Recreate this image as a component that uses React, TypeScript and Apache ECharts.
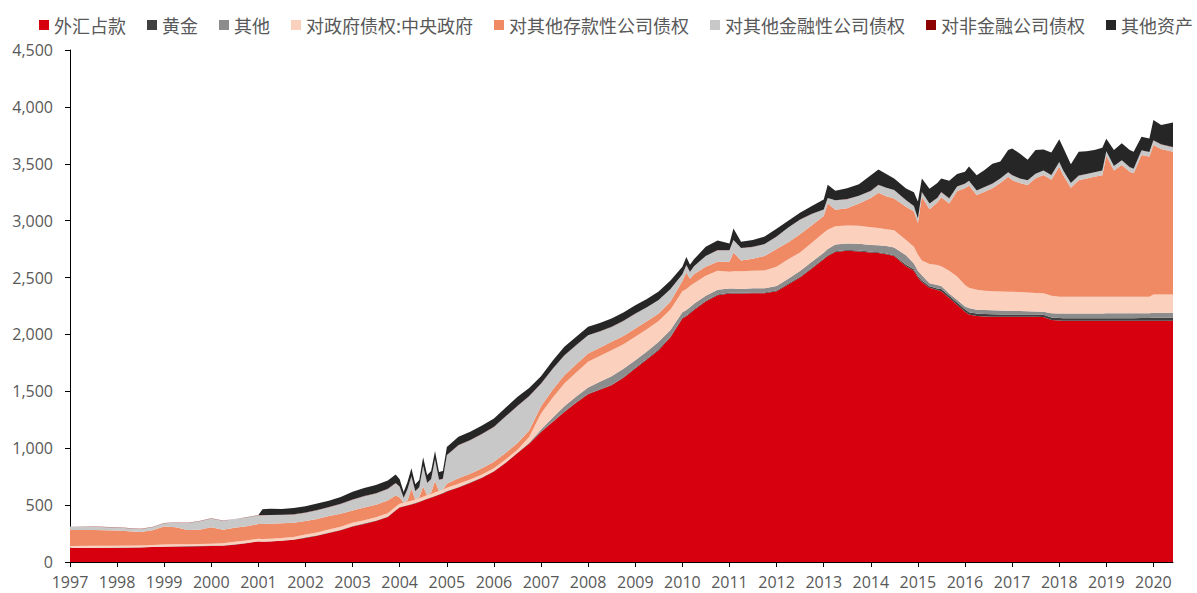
import { useEffect, useRef } from "react";
import * as echarts from "echarts";

// ---- data (unit: 百亿元) ----
const months = [
  "1997-01","1997-07","1998-01","1998-07","1998-10","1999-01","1999-04","1999-07","1999-10",
  "2000-01","2000-04","2000-07","2000-10","2001-01","2001-02","2001-04","2001-07","2001-10",
  "2002-01","2002-04","2002-07","2002-10","2003-01","2003-04","2003-07","2003-10","2003-12",
  "2004-01","2004-02","2004-03","2004-04","2004-05","2004-06","2004-07","2004-08","2004-09","2004-10","2004-11","2004-12",
  "2005-01","2005-04","2005-07","2005-10","2006-01","2006-04","2006-07","2006-10",
  "2007-01","2007-04","2007-07","2007-10","2008-01","2008-04","2008-07","2008-10",
  "2009-01","2009-04","2009-07","2009-10","2010-01","2010-02","2010-03","2010-04","2010-07","2010-10",
  "2011-01","2011-02","2011-04","2011-07","2011-10","2012-01","2012-04","2012-07","2012-10",
  "2013-01","2013-02","2013-04","2013-07","2013-10","2014-01","2014-03","2014-05","2014-07","2014-10","2014-12",
  "2015-01","2015-02","2015-04","2015-06","2015-07","2015-09","2015-11",
  "2016-01","2016-02","2016-04","2016-06","2016-08","2016-10","2016-12",
  "2017-01","2017-03","2017-05","2017-07","2017-09","2017-11",
  "2018-01","2018-02","2018-04","2018-06","2018-08","2018-10","2018-12",
  "2019-01","2019-03","2019-05","2019-07","2019-08","2019-10","2019-12",
  "2020-01","2020-03","2020-06",
];

const fxHoldings = [
  122,123,124,127,131,134,136,137,139,
  141,143,152,165,180,178,180,186,195,
  212,230,255,278,312,335,360,395,452,
  478,487,496,505,515,527,540,553,565,578,590,603,
  620,655,695,740,795,870,955,1040,
  1143,1230,1319,1400,1475,1515,1554,1620,
  1700,1780,1862,1975,2140,2160,2185,2215,2290,2345,
  2360,2360,2360,2362,2362,2380,2440,2500,2580,
  2660,2690,2725,2735,2730,2720,2715,2705,2690,2600,2560,
  2500,2460,2410,2390,2380,2320,2260,
  2200,2175,2162,2158,2156,2155,2155,
  2155,2155,2155,2155,2153,2128,
  2122,2121,2121,2121,2121,2120,2120,
  2120,2120,2120,2120,2120,2120,2120,
  2120,2120,2120,
];

const gold = [
  1,1,1,1,1,1,1,1,1,
  1,1,1,1,1,1,1,1,1,
  3,3,3,3,3,3,3,3,3,
  3,3,3,3,3,3,3,3,3,3,3,3,
  3,3,3,3,3,3,3,3,
  3,3,3,3,3,3,3,3,
  7,7,7,7,7,7,7,7,7,7,
  7,7,7,7,7,7,7,7,7,
  7,7,7,7,7,7,7,7,7,12,13,
  14,14,14,14,20,20,20,
  21,21,21,21,21,21,21,
  21,21,21,21,21,22,
  22,22,22,22,22,22,22,
  23,23,23,23,23,25,25,
  26,26,27,
];

const otherForeign = [
  2,2,2,2,2,2,2,2,2,
  2,2,2,2,2,2,2,2,2,
  2,2,2,2,2,2,2,2,2,
  2,2,2,2,2,2,2,2,2,2,2,2,
  2,2,2,2,2,2,2,5,
  18,35,47,52,55,67,76,75,
  66,63,66,58,48,48,48,48,43,40,
  37,37,33,36,36,38,43,51,53,
  51,53,58,58,60,60,63,66,68,85,51,
  46,46,26,31,25,20,25,
  24,36,33,36,36,34,32,
  31,29,27,25,26,36,
  40,41,41,41,41,43,43,
  43,43,43,43,43,41,41,
  44,44,43,
];

const govClaims = [
  16,16,16,16,16,16,16,16,16,
  16,18,22,22,22,22,22,22,22,
  24,24,26,26,28,28,28,28,28,
  28,28,28,28,28,28,28,28,28,28,28,28,
  28,28,25,25,25,25,25,50,
  141,175,199,210,226,225,229,215,
  206,195,184,180,185,185,185,180,175,168,
  147,151,155,155,157,170,170,162,165,
  176,170,162,158,158,155,150,147,150,132,146,
  140,130,170,175,175,200,205,
  190,178,176,170,167,168,168,
  168,167,165,164,162,154,
  147,147,147,147,147,146,146,
  145,145,145,145,145,145,145,
  161,161,161,
];

const bankClaims = [
  140,140,133,118,130,160,150,125,125,
  145,120,125,125,128,130,132,130,125,
  120,120,118,115,108,112,110,112,100,
  55,0,10,105,0,10,90,0,10,100,0,0,
  35,48,50,55,57,58,58,58,
  64,70,74,74,73,73,73,73,
  73,70,65,70,90,145,65,80,80,80,
  87,165,95,105,128,155,150,160,155,
  146,230,143,152,195,258,310,290,280,293,310,
  280,560,480,550,605,590,750,
  850,900,833,870,905,952,1010,
  982,958,945,1007,1039,1020,
  1143,1069,959,1024,1039,1054,1069,
  1239,1109,1159,1099,1085,1246,1232,
  1314,1279,1255,
];

const otherFinClaims = [
  30,28,27,27,25,28,40,62,75,
  78,78,75,77,78,78,75,72,72,
  72,75,78,85,95,98,100,102,108,
  95,43,99,108,73,86,180,109,120,190,100,94,
  250,290,295,300,305,320,325,300,
  197,183,174,166,160,143,130,132,
  130,123,118,109,59,64,59,69,94,101,
  102,109,109,104,104,109,129,129,99,
  58,49,84,79,69,61,69,74,74,58,49,
  39,40,50,40,45,45,40,
  40,40,40,40,40,40,39,
  43,40,42,40,39,40,
  41,40,40,40,40,40,40,
  40,40,40,40,40,40,40,
  40,40,40,
];

const nonFinClaims = [
  2,2,2,2,2,2,2,2,2,
  2,2,2,2,2,2,2,2,2,
  2,2,2,2,2,2,2,2,2,
  2,2,2,2,2,2,2,2,2,2,2,2,
  2,2,2,2,2,2,2,2,
  2,2,2,2,2,2,2,2,
  1,1,1,1,1,1,1,1,1,1,
  1,1,1,1,1,1,1,1,1,
  1,1,1,1,1,1,1,1,1,1,1,
  1,1,1,1,1,1,1,
  1,1,1,1,1,1,1,
  1,1,1,1,1,1,
  1,1,1,1,1,1,1,
  1,1,1,1,1,1,1,
  1,1,1,
];

const otherAssets = [
  0,0,0,0,0,0,0,0,0,
  0,0,0,0,0,50,55,50,55,
  55,58,55,60,68,70,72,72,75,
  65,50,60,70,60,62,75,68,70,72,65,68,
  70,72,72,73,73,75,80,72,
  65,70,73,73,73,72,73,72,
  73,72,74,75,65,70,62,60,80,83,
  59,102,55,59,65,70,60,60,70,
  88,115,82,95,100,138,135,120,100,102,120,
  149,119,129,129,119,154,109,
  104,124,134,149,174,149,194,
  234,219,179,207,184,199,
  199,199,164,209,199,194,199,
  109,139,149,149,149,120,119,
  179,169,215,
];

const seriesNames = [
  "外汇占款",
  "黄金",
  "其他",
  "对政府债权:中央政府",
  "对其他存款性公司债权",
  "对其他金融性公司债权",
  "对非金融公司债权",
  "其他资产",
];
const seriesValues = [
  fxHoldings, gold, otherForeign, govClaims, bankClaims, otherFinClaims, nonFinClaims, otherAssets,
];
const seriesColors = [
  "#D7000F", "#404040", "#8C8C8C", "#FBD0BC", "#F08A65", "#C8C8C8", "#8C0000", "#262626",
];

function toTime(m: string): number {
  const [y, mo] = m.split("-").map(Number);
  return Date.UTC(y, mo - 1, 1);
}

const DAY = 24 * 3600 * 1000;

export default function App() {
  const ref = useRef<HTMLDivElement>(null);

  useEffect(() => {
    if (!ref.current) return;
    const chart = echarts.init(ref.current, null, { renderer: "svg" });
    const xs = months.map(toTime);
    const labelFont = "'Open Sans', 'Noto Sans', sans-serif";

    chart.setOption({
      animation: false,
      backgroundColor: "#ffffff",
      useUTC: true,
      grid: { left: 70, right: 24, top: 50, bottom: 31, containLabel: false },
      legend: {
        top: 11,
        left: 34,
        width: 1163,
        itemWidth: 10,
        itemHeight: 10,
        itemGap: 21,
        icon: "rect",
        textStyle: {
          fontSize: 18,
          color: "#595959",
          fontFamily: "'Noto Sans CJK SC', sans-serif",
        },
        data: seriesNames,
      },
      xAxis: {
        type: "time",
        min: xs[0],
        max: xs[xs.length - 1],
        minInterval: 365 * DAY,
        maxInterval: 366 * DAY,
        axisLine: { show: true, lineStyle: { color: "#000", width: 1 } },
        axisTick: {
          show: true,
          length: 5,
          lineStyle: { color: "#000", width: 1 },
        },
        axisLabel: {
          formatter: (v: number) => String(new Date(v).getUTCFullYear()),
          color: "#595959",
          fontSize: 16,
          fontFamily: labelFont,
          margin: 12,
          hideOverlap: false,
          showMinLabel: true,
        },
        splitLine: { show: false },
      },
      yAxis: {
        type: "value",
        min: 0,
        max: 4500,
        interval: 500,
        axisLine: { show: true, lineStyle: { color: "#000", width: 1 } },
        axisTick: { show: true, length: 5, lineStyle: { color: "#000", width: 1 } },
        axisLabel: {
          formatter: (v: number) => v.toLocaleString("en-US"),
          color: "#595959",
          fontSize: 16,
          fontFamily: labelFont,
          margin: 17,
        },
        splitLine: { show: false },
      },
      series: seriesNames.map((name, i) => ({
        name,
        type: "line",
        stack: "total",
        symbol: "none",
        showSymbol: false,
        lineStyle: { width: 0 },
        itemStyle: { color: seriesColors[i] },
        areaStyle: { color: seriesColors[i], opacity: 1 },
        data: xs.map((x, j) => [x, seriesValues[i][j]]),
      })),
    });

    return () => chart.dispose();
  }, []);

  return (
    <div
      ref={ref}
      style={{ position: "fixed", left: 0, top: 0, width: 1197, height: 593 }}
    />
  );
}
